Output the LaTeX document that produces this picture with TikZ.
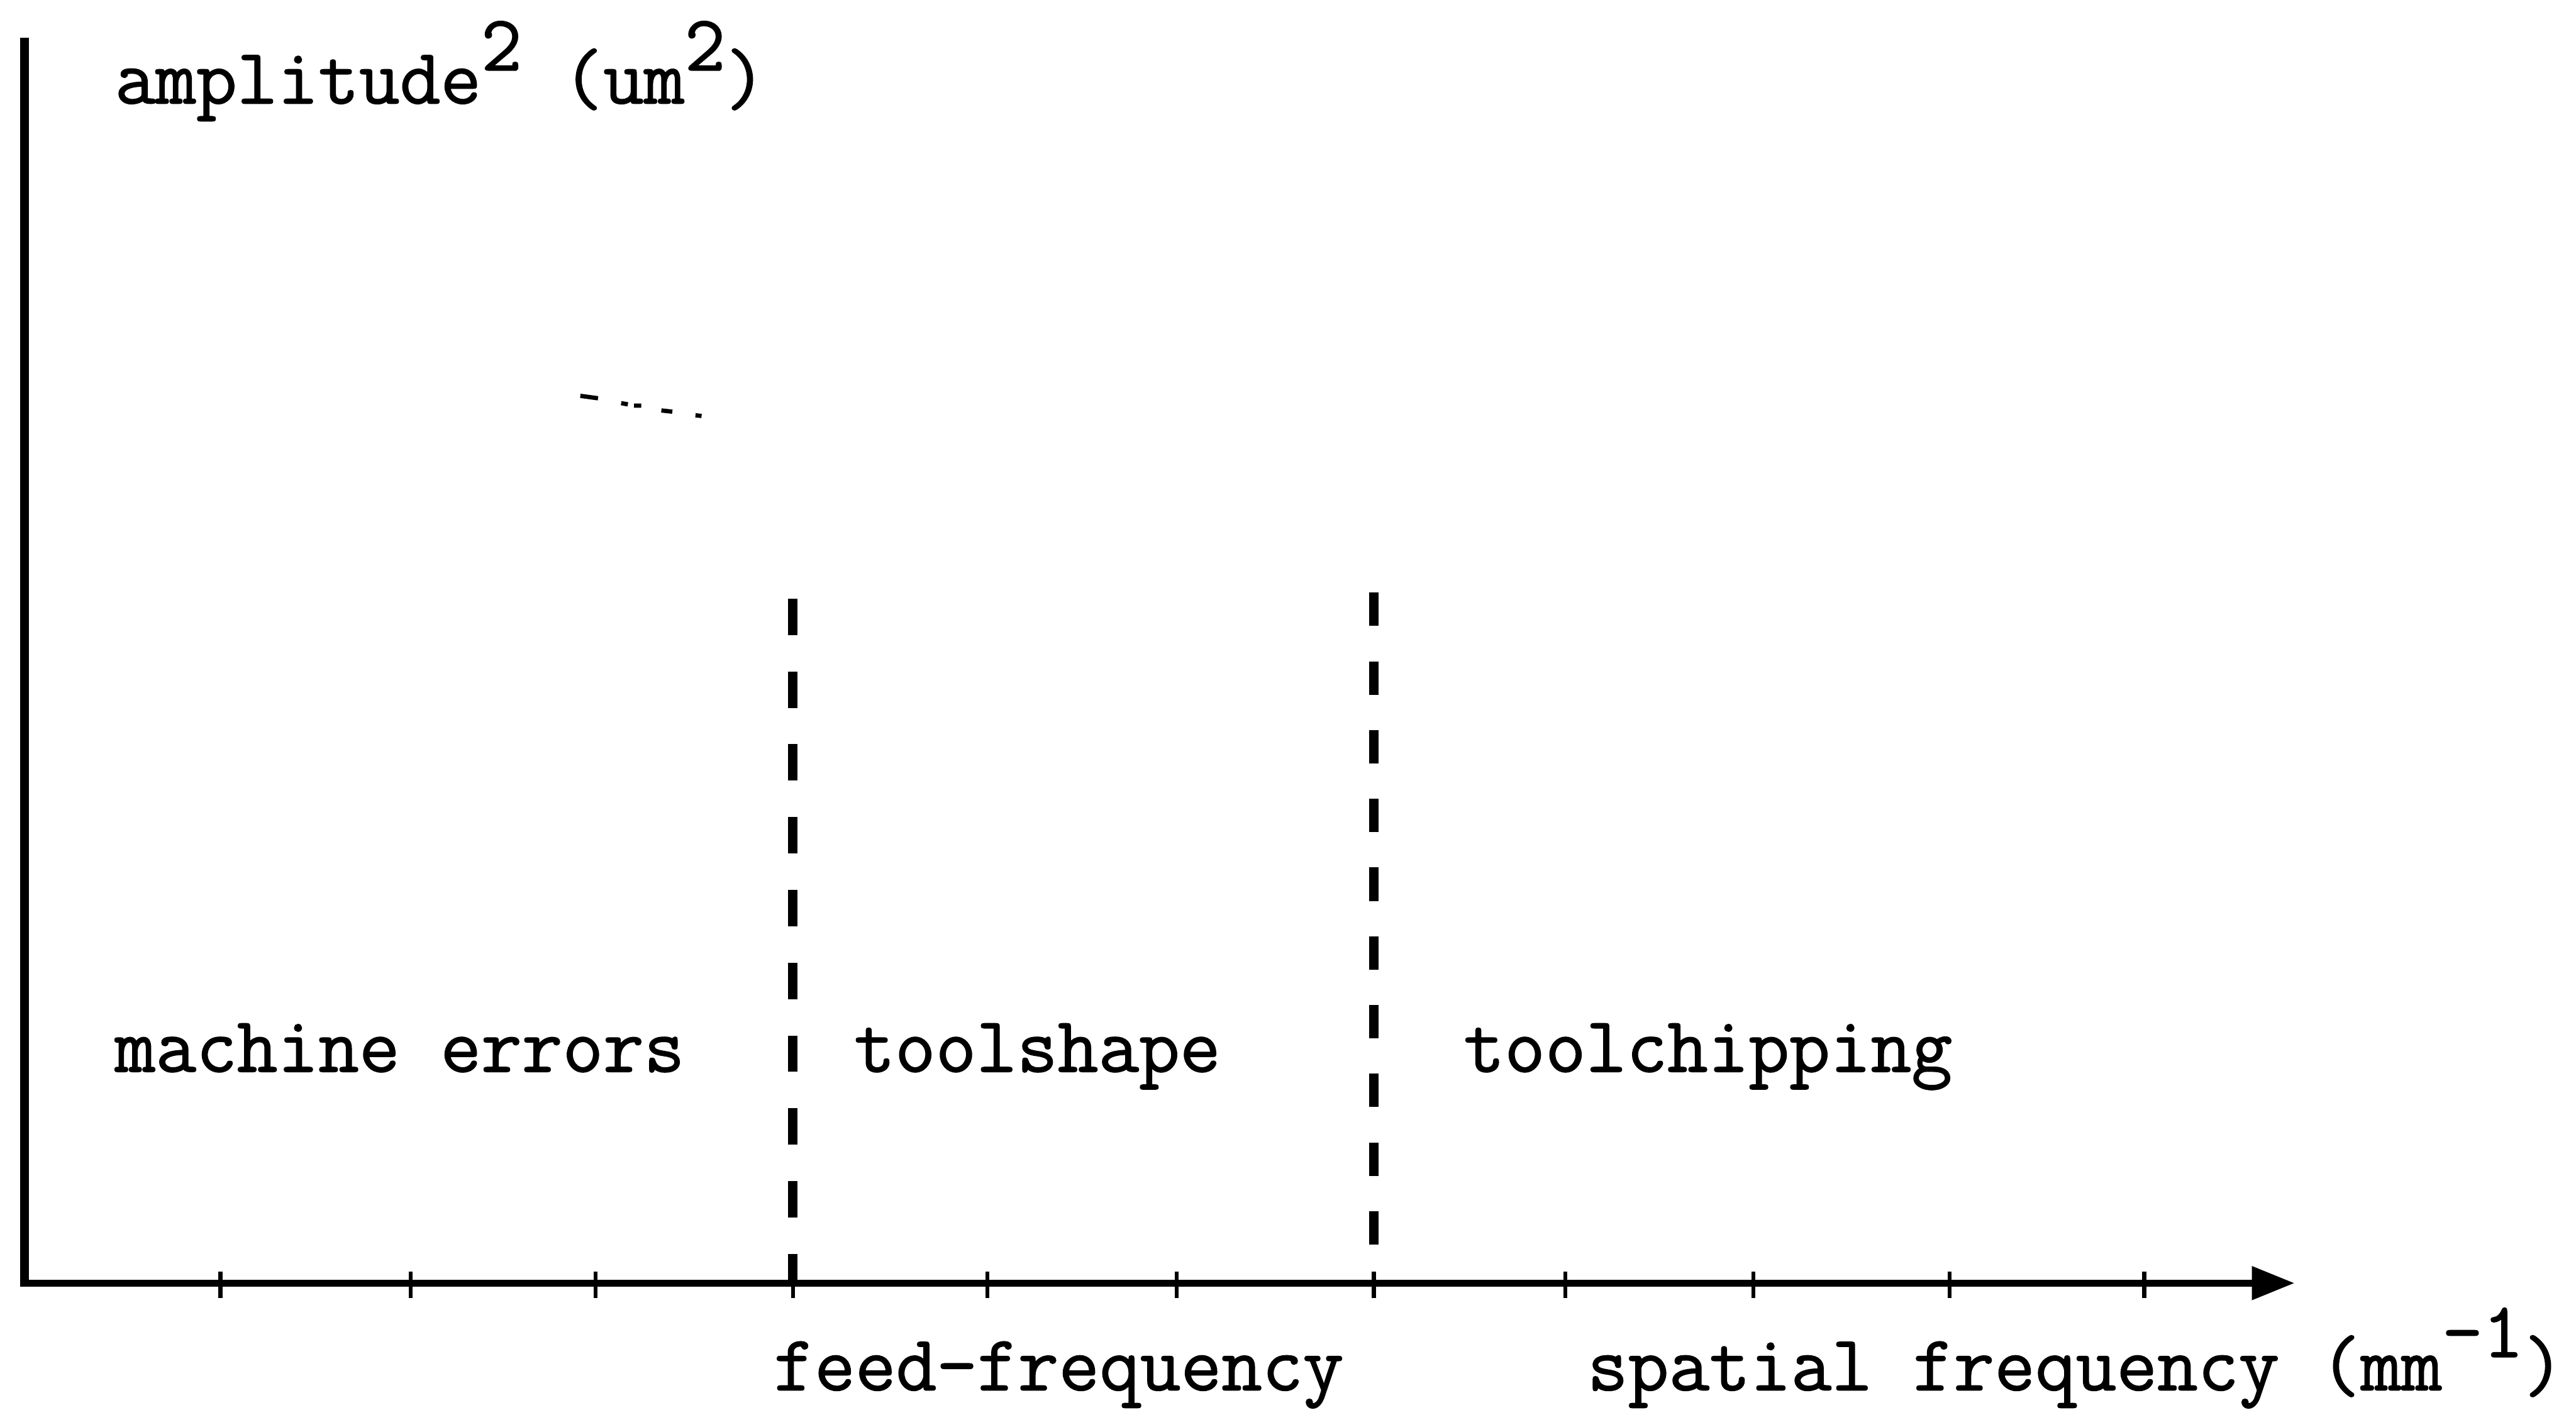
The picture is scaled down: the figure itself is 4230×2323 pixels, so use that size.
\documentclass[tikz,border=0pt]{standalone}
\usepackage{fontspec}
\newfontfamily\tw{Latin Modern Mono}[FakeBold=1.2]
\usetikzlibrary{arrows.meta}
\newcommand\supr[1]{\raisebox{0.42em}{#1}}
\tikzset{
  lbl/.style={anchor=base west, inner sep=0pt, font=\tw\fontsize{36.9pt}{40pt}\selectfont},
  yaxis/.style={line width=4pt},
  xaxis/.style={line width=3.4pt, -{Triangle[length=20pt,width=15pt]}},
  divider/.style={line width=4.5pt, dash pattern=on 17pt off 17pt},
  tickmark/.style={line width=1.8pt},
  speck/.style={line width=2pt}
}
\begin{document}
\begin{tikzpicture}[x=0.01cm,y=-0.01cm]
\useasboundingbox (0,0) rectangle (4230,2323);
% axes
\coordinate (ytop) at (40,62);
\coordinate (O) at (40,2107);
\coordinate (xstart) at (33,2107);
\coordinate (xend) at (3768,2107);
\draw[yaxis] (ytop) -- (O);
\draw[xaxis] (xstart) -- (xend);
% ticks
\foreach \t [count=\i] in {362,674,978,1302,1621,1932,2256,2570,2879,3201,3521} {
  \coordinate (tk\i a) at (\t,2088);
  \coordinate (tk\i b) at (\t,2132);
  \draw[tickmark] (tk\i a) -- (tk\i b);
}
% dashed dividers
\coordinate (d1top) at (1302,983);
\coordinate (d1bot) at (1302,2107);
\coordinate (d2top) at (2256,973);
\coordinate (d2bot) at (2256,2107);
\draw[divider] (d1top) -- (d1bot);
\draw[divider, dash pattern=on 15.6pt off 16.5pt] (d2top) -- (d2bot);
% faint fragment
\coordinate (f1) at (953,650); \coordinate (f2) at (982,654);
\coordinate (f3) at (1020,662); \coordinate (f4) at (1031,664);
\coordinate (f5) at (1041,666); \coordinate (f6) at (1053,666);
\coordinate (f7) at (1086,674); \coordinate (f8) at (1104,676);
\coordinate (f9) at (1142,682); \coordinate (f10) at (1152,683);
\draw[speck] (f1) -- (f2) (f3) -- (f4) (f5) -- (f6) (f7) -- (f8) (f9) -- (f10);
% labels
\node[lbl] (ylab) at (188,170) {amplitude\supr{2} (um\supr{2})};
\node[lbl] (mach) at (188,1760) {machine errors};
\node[lbl] (tshape) at (1402,1760) {toolshape};
\node[lbl] (tchip) at (2403,1760) {toolchipping};
\node[lbl] (feed) at (1270,2283) {feed-frequency};
\node[lbl] (xlab) at (2606,2283) {spatial frequency (mm\supr{-1})};
\end{tikzpicture}
\end{document}
